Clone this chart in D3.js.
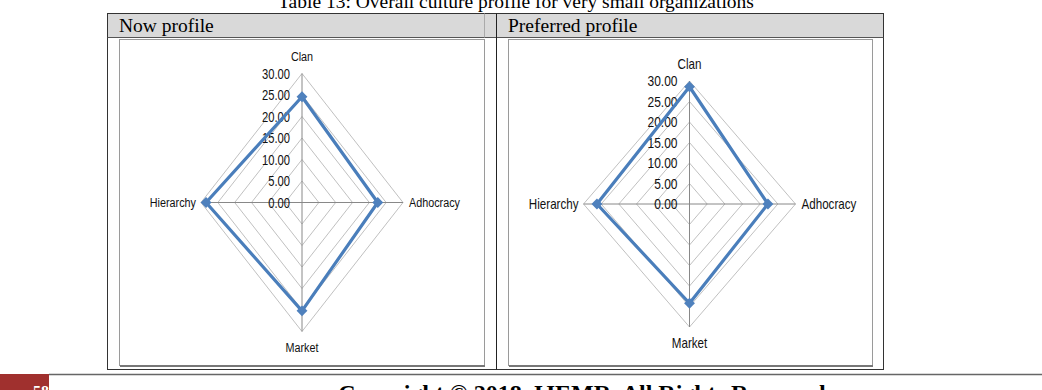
<!DOCTYPE html>
<html>
<head>
<meta charset="utf-8">
<script src="https://cdn.jsdelivr.net/npm/d3@7"></script>
<style>
  html, body { margin: 0; padding: 0; background: #fff; overflow: hidden; }
  svg { display: block; }
  .serif { font-family: "Liberation Serif", "Times New Roman", serif; }
  .lbl { font-family: "Liberation Sans", Arial, sans-serif; fill: #111; }
</style>
</head>
<body>
<svg id="page" width="1042" height="390"></svg>
<script>
// chart data
var categories = ["Clan", "Adhocracy", "Market", "Hierarchy"];
var nowValues = [24.6, 22.5, 25.2, 28.5];
var preferredValues = [28.6, 22.2, 24.2, 26.2];
var tickValues = [0, 5, 10, 15, 20, 25, 30];
var panelTitles = ["Now profile", "Preferred profile"];
var tableCaption = "Table 13: Overall culture profile for very small organizations";
var footerText = "Copyright \u00a9 2018, IJEMR. All Rights Reserved";
var pageNumber = "58";

var svg = d3.select("#page");
var fmt = d3.format(".2f");
var blue = "#4a7ebb";

// caption, cut at the top
svg.append("text").attr("class", "serif")
  .attr("x", 516).attr("y", 8)
  .attr("text-anchor", "middle")
  .attr("font-size", 19.5)
  .text(tableCaption);

// table header
svg.append("rect").attr("x", 107.5).attr("y", 13.5).attr("width", 776).attr("height", 24)
  .attr("fill", "#d9d9d9").attr("stroke", "none");
svg.append("rect").attr("x", 107.5).attr("y", 13.5).attr("width", 776).attr("height", 356)
  .attr("fill", "none").attr("stroke", "#333").attr("stroke-width", 1);
svg.append("line").attr("x1", 107.5).attr("x2", 883.5).attr("y1", 37.5).attr("y2", 37.5)
  .attr("stroke", "#555");
svg.append("line").attr("x1", 496.5).attr("x2", 496.5).attr("y1", 13.5).attr("y2", 369.5)
  .attr("stroke", "#222");
svg.append("line").attr("x1", 484.5).attr("x2", 484.5).attr("y1", 13.5).attr("y2", 37.5)
  .attr("stroke", "#aaa");

svg.selectAll(".hdr").data(panelTitles).enter().append("text")
  .attr("class", "serif hdr")
  .attr("x", function(d, i) { return i === 0 ? 119 : 508; })
  .attr("y", 32)
  .attr("font-size", 19.5)
  .text(function(d) { return d; });

// panels (the source image is squeezed sideways, so text is squeezed too)
var panels = [
  { values: nowValues, fx: 119, fw: 365, cx: 302, cy: 202.5, rx: 101, ry: 129, fs: 14 },
  { values: preferredValues, fx: 508, fw: 364, cx: 689.5, cy: 204, rx: 106, ry: 123, fs: 15 }
];
var squeeze = 0.8;

panels.forEach(function(p) {
  var g = svg.append("g");
  // chart frame with soft shadow
  g.append("rect").attr("x", p.fx + 0.5).attr("y", 39.5).attr("width", p.fw).attr("height", 326)
    .attr("fill", "#fff").attr("stroke", "#9a9a9a");
  g.append("line").attr("x1", p.fx + 1).attr("x2", p.fx + p.fw + 1).attr("y1", 366).attr("y2", 366)
    .attr("stroke", "#777").attr("stroke-width", 2);

  var sx = d3.scaleLinear().domain([0, 30]).range([0, p.rx]);
  var sy = d3.scaleLinear().domain([0, 30]).range([0, p.ry]);
  var angle = d3.scalePoint().domain(categories).range([0, 2 * Math.PI * 3 / 4]);
  function pt(cat, v) {
    var a = angle(cat);
    return [p.cx + Math.sin(a) * sx(v), p.cy - Math.cos(a) * sy(v)];
  }

  // grid rings
  var ring = d3.line().curve(d3.curveLinearClosed);
  g.selectAll(".grid").data(tickValues.filter(function(t) { return t > 0; })).enter()
    .append("path")
    .attr("d", function(t) { return ring(categories.map(function(c) { return pt(c, t); })); })
    .attr("fill", "none").attr("stroke", "#b0b0b0").attr("stroke-width", 0.8);

  // spokes
  g.selectAll(".spoke").data(categories).enter().append("line")
    .attr("x1", p.cx).attr("y1", p.cy)
    .attr("x2", function(c) { return pt(c, 30)[0]; })
    .attr("y2", function(c) { return pt(c, 30)[1]; })
    .attr("stroke", "#888").attr("stroke-width", 1);

  // tick labels
  g.selectAll(".tick").data(tickValues).enter().append("text")
    .attr("class", "lbl")
    .attr("transform", function(t) {
      return "translate(" + (p.cx - 12) + "," + (p.cy - sy(t)) + ") scale(" + squeeze + ",1)";
    })
    .attr("dy", "0.36em")
    .attr("text-anchor", "end")
    .attr("font-size", p.fs)
    .text(function(t) { return fmt(t); });

  // category labels
  g.selectAll(".cat").data(categories).enter().append("text")
    .attr("class", "lbl")
    .attr("transform", function(c) {
      var e = pt(c, 30), x = e[0], y = e[1];
      if (c === "Adhocracy") x += 6;
      if (c === "Hierarchy") x -= 5;
      if (c === "Clan") y -= 17;
      if (c === "Market") y += 16;
      return "translate(" + x + "," + y + ") scale(" + squeeze + ",1)";
    })
    .attr("dy", "0.36em")
    .attr("text-anchor", function(c) {
      return c === "Adhocracy" ? "start" : c === "Hierarchy" ? "end" : "middle";
    })
    .attr("font-size", p.fs - 0.5)
    .text(function(c) { return c; });

  // data series
  var pts = categories.map(function(c, i) { return pt(c, p.values[i]); });
  g.append("path").attr("d", ring(pts))
    .attr("fill", "none").attr("stroke", blue).attr("stroke-width", 3.2)
    .attr("stroke-linejoin", "round");
  g.selectAll(".mk").data(pts).enter().append("path")
    .attr("d", d3.symbol().type(d3.symbolDiamond2).size(75))
    .attr("transform", function(d) { return "translate(" + d[0] + "," + d[1] + ")"; })
    .attr("fill", "#4f81bd");
});

// page footer
svg.append("rect").attr("x", 0).attr("y", 374).attr("width", 49).attr("height", 16).attr("fill", "#a0302e");
svg.append("line").attr("x1", 49).attr("x2", 1042).attr("y1", 374.5).attr("y2", 374.5)
  .attr("stroke", "#666").attr("stroke-width", 1.5);
svg.append("text").attr("class", "serif")
  .attr("x", 49).attr("y", 397).attr("text-anchor", "end")
  .attr("font-size", 16).attr("font-weight", "bold").attr("fill", "#fff")
  .text(pageNumber);
svg.append("text").attr("class", "serif")
  .attr("x", 582).attr("y", 401).attr("text-anchor", "middle")
  .attr("font-size", 24).attr("font-weight", "bold")
  .text(footerText);
</script>
</body>
</html>
